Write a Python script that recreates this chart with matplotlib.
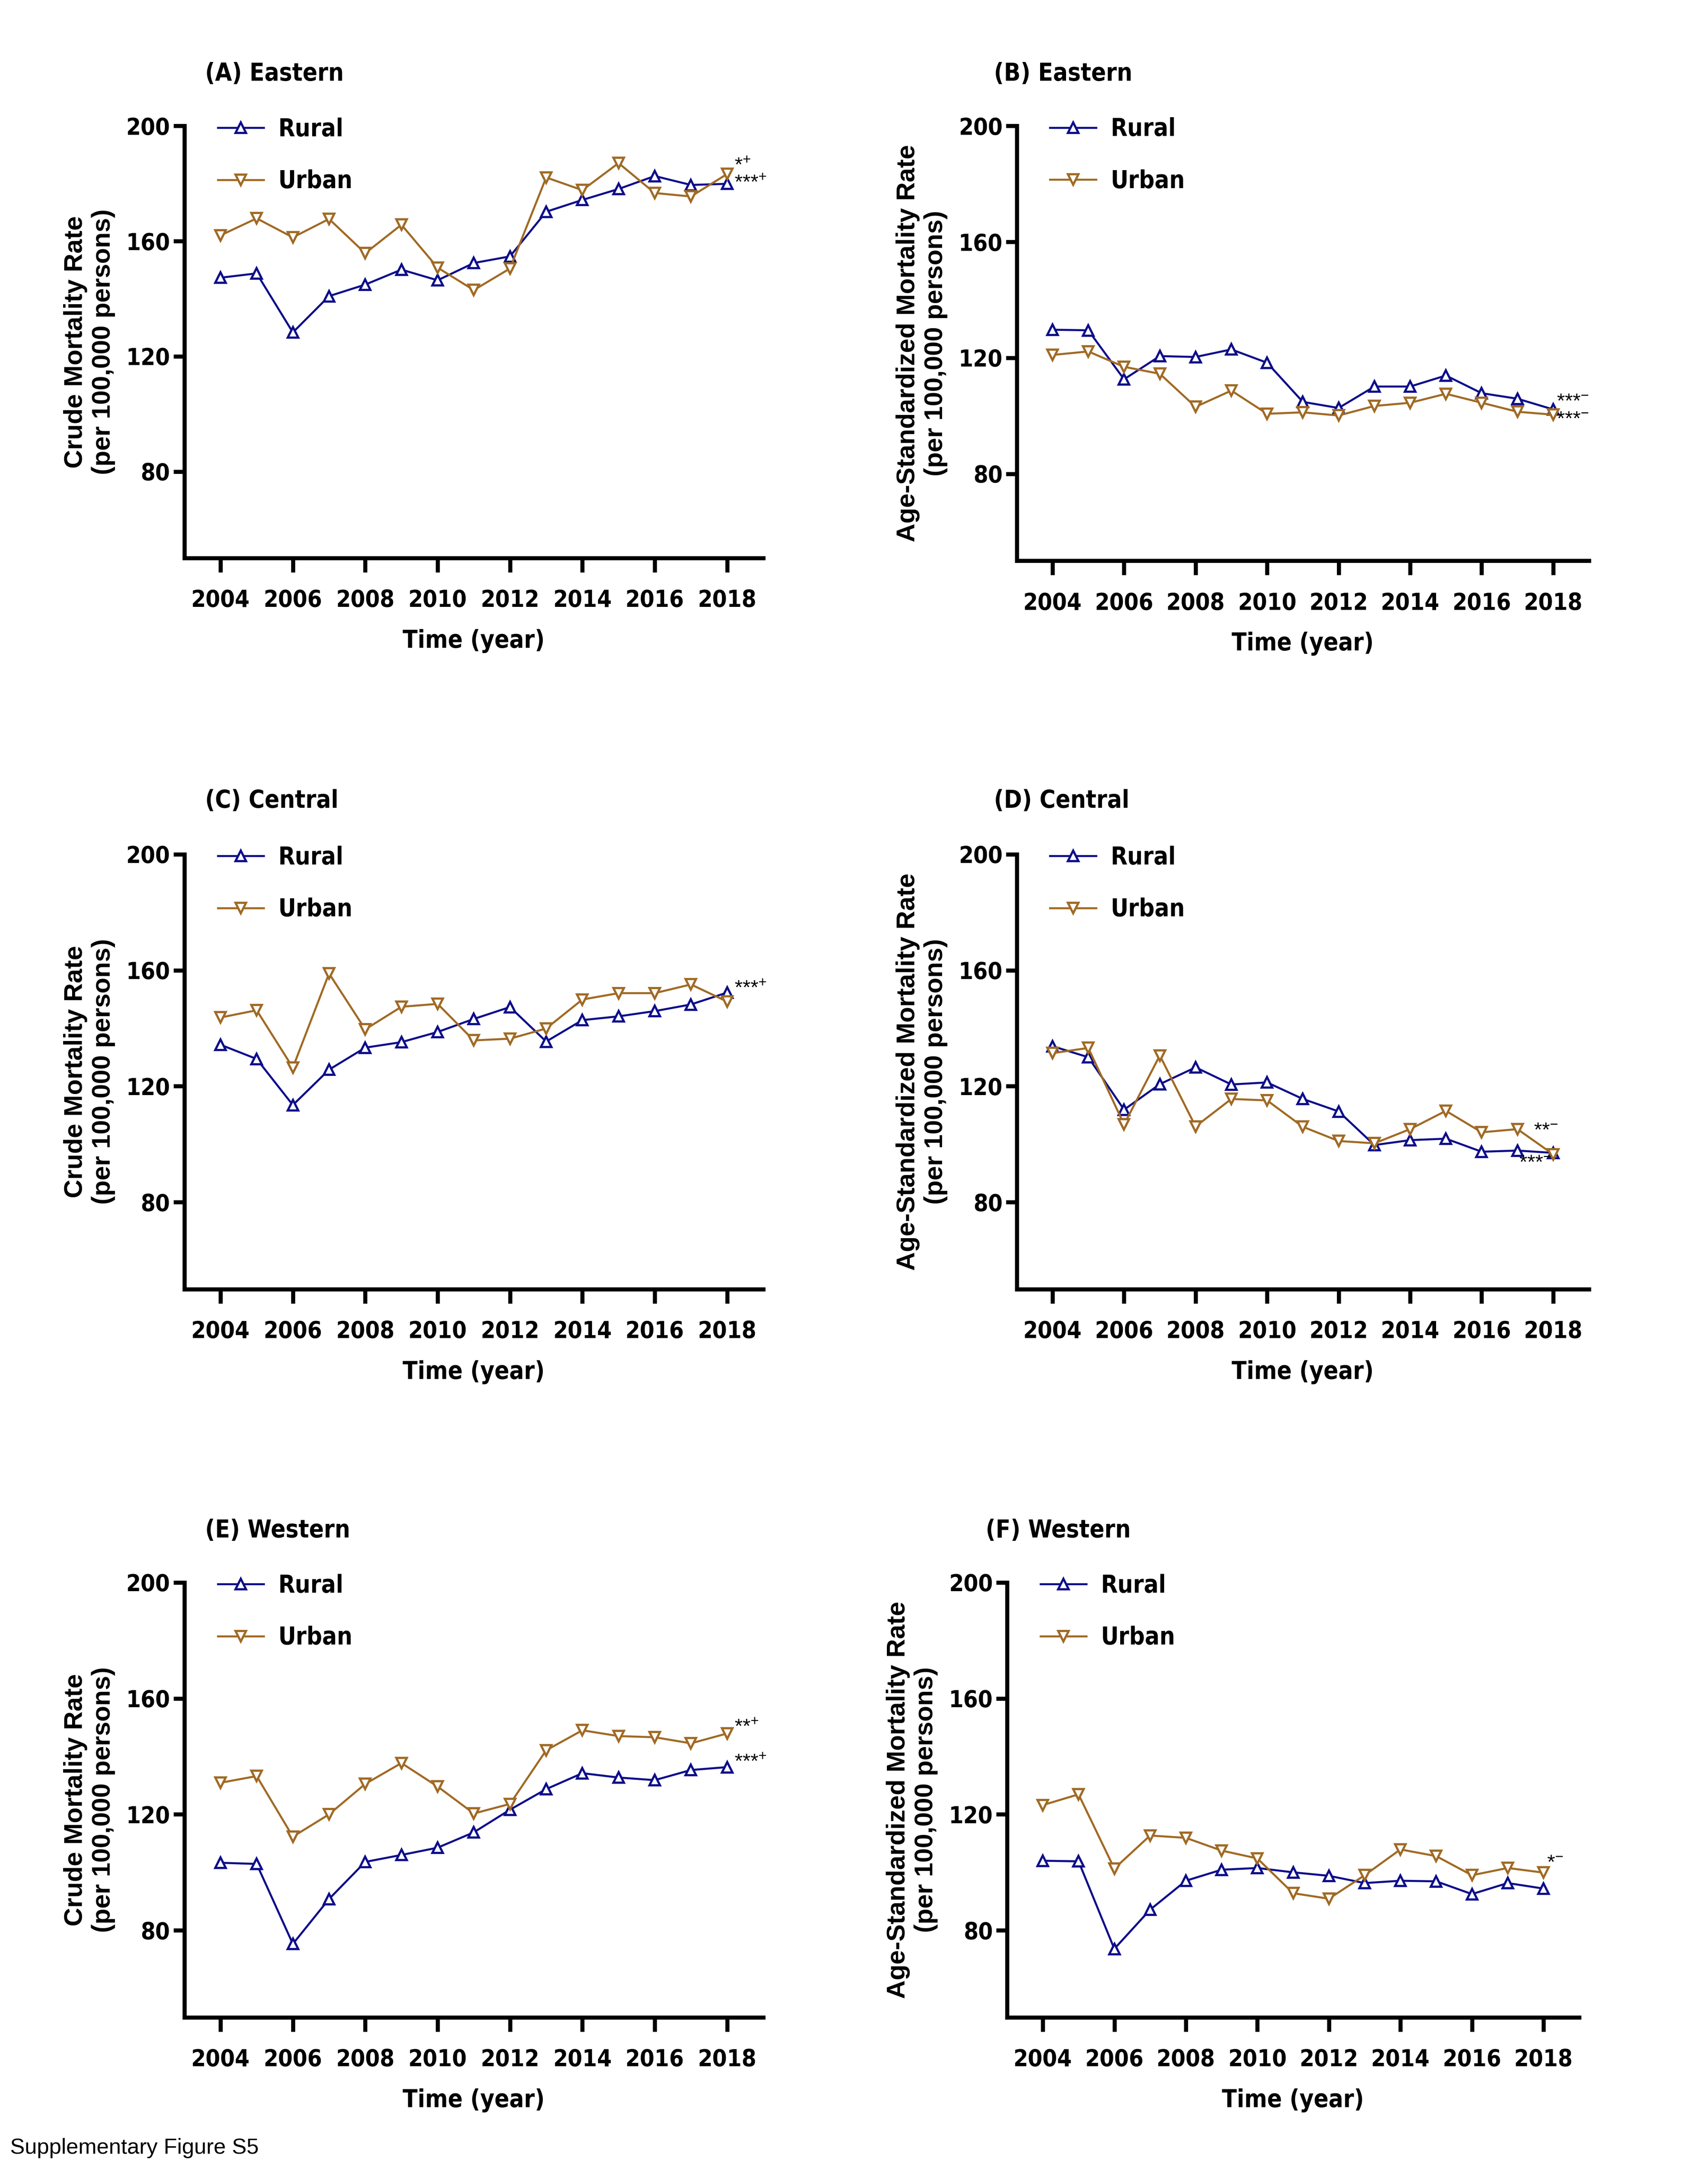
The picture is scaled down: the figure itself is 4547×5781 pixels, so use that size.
import matplotlib
matplotlib.use("Agg")
import matplotlib.pyplot as plt
from matplotlib import font_manager
from matplotlib.font_manager import FontProperties

years = list(range(2004, 2019))

# (A) Eastern crude
a_rural = [147.3, 148.8, 128.3, 140.9, 144.9, 150.1, 146.4, 152.4, 154.7, 170.2, 174.3, 178.1, 182.6, 179.5, 179.9]
a_urban = [162.0, 167.9, 161.3, 167.7, 155.8, 165.7, 150.8, 143.0, 150.5, 182.1, 177.7, 187.1, 176.7, 175.5, 183.3]
# (B) Eastern age-standardized
b_rural = [129.7, 129.5, 112.6, 120.6, 120.3, 122.9, 118.3, 104.8, 102.7, 110.1, 110.1, 113.9, 107.8, 105.9, 102.2]
b_urban = [121.0, 122.2, 116.9, 114.5, 103.1, 108.7, 100.7, 101.2, 100.1, 103.4, 104.5, 107.6, 104.5, 101.4, 100.4]
# (C) Central crude
c_rural = [134.3, 129.4, 113.5, 125.7, 133.3, 135.2, 138.7, 143.2, 147.3, 135.4, 142.8, 144.1, 145.9, 148.2, 152.3]
c_urban = [143.7, 146.2, 126.4, 158.9, 139.6, 147.4, 148.4, 135.8, 136.4, 139.9, 149.9, 152.1, 152.1, 155.1, 149.2]
# (D) Central age-standardized
d_rural = [133.8, 130.0, 111.9, 120.7, 126.5, 120.6, 121.3, 115.6, 111.3, 99.7, 101.4, 101.9, 97.4, 97.8, 97.0]
d_urban = [131.4, 133.2, 106.8, 130.6, 106.1, 115.6, 115.1, 106.0, 101.1, 100.3, 105.2, 111.5, 104.1, 105.2, 96.5]
# (E) Western crude
e_rural = [103.3, 102.9, 75.3, 90.8, 103.6, 106.0, 108.5, 113.8, 121.6, 128.7, 134.2, 132.7, 131.8, 135.3, 136.3]
e_urban = [130.9, 133.2, 112.3, 120.0, 130.5, 137.7, 129.6, 120.3, 123.6, 142.1, 149.0, 147.0, 146.6, 144.5, 147.9]
# (F) Western age-standardized
f_rural = [104.0, 103.8, 73.6, 87.1, 97.1, 100.9, 101.5, 100.0, 98.8, 96.3, 97.1, 96.9, 92.5, 96.3, 94.4]
f_urban = [123.2, 126.9, 101.3, 112.7, 111.9, 107.5, 104.8, 92.8, 90.9, 99.0, 107.9, 105.6, 99.0, 101.5, 99.9]

titles = ["(A) Eastern", "(B) Eastern", "(C) Central", "(D) Central", "(E) Western", "(F) Western"]
ylabels = ["Crude Mortality Rate\n(per 100,000 persons)",
           "Age-Standardized Mortality Rate\n(per 100,000 persons)"] * 3
x_ticks = [2004, 2006, 2008, 2010, 2012, 2014, 2016, 2018]
y_ticks = [80, 120, 160, 200]

# significance marks: (text, x, y)
marks = [
    [("*$^{+}$", 2018.2, 186.3), ("***$^{+}$", 2018.2, 180.2)],
    [("***$^{-}$", 2018.1, 104.9), ("***$^{-}$", 2018.1, 98.8)],
    [("***$^{+}$", 2018.2, 153.8)],
    [("**$^{-}$", 2017.45, 104.8), ("***$^{-}$", 2017.05, 93.6)],
    [("**$^{+}$", 2018.2, 150.1), ("***$^{+}$", 2018.2, 138.1)],
    [("*$^{-}$", 2018.1, 103.3)],
]

rural = [a_rural, b_rural, c_rural, d_rural, e_rural, f_rural]
urban = [a_urban, b_urban, c_urban, d_urban, e_urban, f_urban]

RURAL_C = "#0d0d8a"
URBAN_C = "#a06a24"
arial = ["Liberation Sans", "DejaVu Sans"]
plt.rcParams["mathtext.default"] = "regular"

# look for a condensed bold face for ticks / legend / titles
cond_file = None
for key in ["LiberationSansNarrow-Bold.", "DejaVuSansCondensed-Bold."]:
    for f in font_manager.fontManager.ttflist:
        if key in f.fname:
            cond_file = f.fname
            break
    if cond_file:
        break


def cfont(size):
    if cond_file:
        return FontProperties(fname=cond_file, size=size)
    return FontProperties(family=arial, weight="bold", size=size)


fig = plt.figure(figsize=(4547 / 300, 5781 / 300), dpi=300)

# axes rects (left, bottom, width, height)
rects = [
    (0.1079, 0.7430, 0.339, 0.199),
    (0.5953, 0.7417, 0.335, 0.2003),
    (0.1079, 0.4062, 0.339, 0.2003),
    (0.5953, 0.4062, 0.335, 0.2003),
    (0.1079, 0.0708, 0.339, 0.2003),
    (0.5896, 0.0708, 0.335, 0.2003),
]
title_pos = [(0.120, 0.966), (0.582, 0.966), (0.120, 0.631), (0.582, 0.631), (0.120, 0.295), (0.577, 0.295)]

for i in range(6):
    ax = fig.add_axes(rects[i])
    ax.plot(years, rural[i], color=RURAL_C, lw=1.3, marker="^", ms=6.5,
            mfc="white", mec=RURAL_C, mew=1.4, label="Rural", zorder=3)
    ax.plot(years, urban[i], color=URBAN_C, lw=1.3, marker="v", ms=6.5,
            mfc="white", mec=URBAN_C, mew=1.4, label="Urban", zorder=3)
    ax.set_xlim(2003, 2019)
    ax.set_ylim(50, 200)
    ax.set_xticks(x_ticks)
    ax.set_yticks(y_ticks)
    for lab in ax.get_xticklabels() + ax.get_yticklabels():
        lab.set_fontproperties(cfont(15))
    ax.spines["top"].set_visible(False)
    ax.spines["right"].set_visible(False)
    ax.spines["left"].set_linewidth(2.6)
    ax.spines["bottom"].set_linewidth(2.6)
    ax.tick_params(axis="x", length=9, width=2.6, pad=11)
    ax.tick_params(axis="y", length=7, width=2.6, pad=2)
    ax.set_ylabel(ylabels[i], family=arial, fontweight="bold", fontsize=16.5, labelpad=7)
    ax.set_xlabel("Time (year)", fontproperties=cfont(15.5), labelpad=11)
    ax.legend(loc="upper left", bbox_to_anchor=(0.02, 1.07), frameon=False,
              handlelength=1.9, labelspacing=1.15, handletextpad=0.6,
              prop=cfont(15.5))
    for txt, x, y in marks[i]:
        ax.text(x, y, txt, family=arial, fontsize=13, va="center", ha="left")
    fig.text(title_pos[i][0], title_pos[i][1], titles[i], fontproperties=cfont(15.5),
             va="center", ha="left")

fig.text(0.006, 0.0105, "Supplementary Figure S5", family=arial, fontsize=14, va="center", ha="left")

fig.savefig("out.png", dpi=300)
plt.close()
